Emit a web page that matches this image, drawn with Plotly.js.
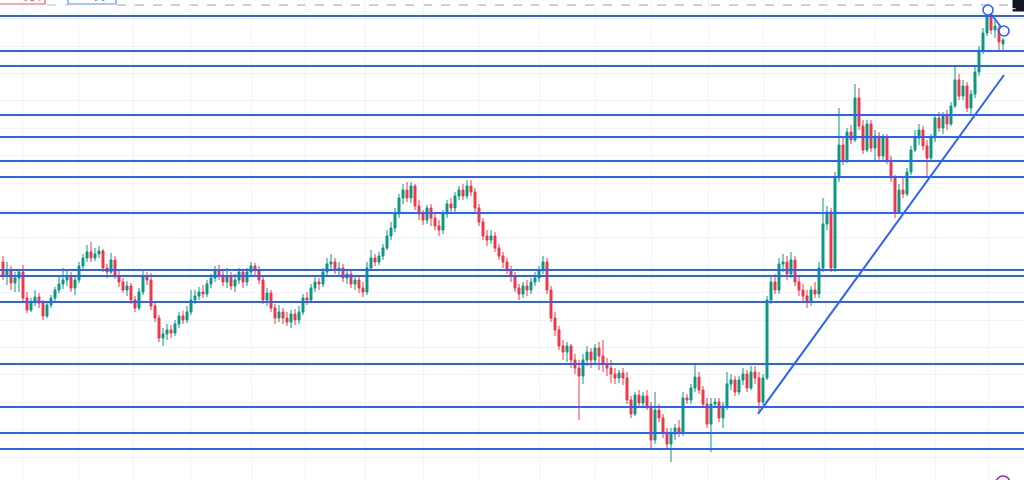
<!DOCTYPE html>
<html>
<head>
<meta charset="utf-8">
<script src="https://cdn.plot.ly/plotly-3.0.1.min.js"></script>
<style>
html,body{margin:0;padding:0;background:#ffffff;}
#chart{width:1024px;height:480px;}
</style>
</head>
<body>
<div id="chart"></div>
<script>
// candle index (one per session)
const open = [218,205,210,197,202,208,182,170,178,183, 177,164,175,182,190,196,200,204,192,200, 214,222,228,222,226,229,212,208,220,204, 198,190,194,180,172,188,204,200,174,162, 142,146,150,147,156,164,160,168,180,184, 188,186,196,202,210,205,198,204,194,200, 208,198,208,214,210,200,180,187,172,162, 168,162,158,166,160,168,182,180,192,198, 196,208,216,218,210,212,202,206,196,200, 192,188,212,222,218,224,232,244,252,266, 282,290,282,294,274,266,260,272,262,254, 250,266,276,272,284,290,284,294,288,272, 258,244,240,244,232,224,218,210,204,192, 186,194,190,198,202,210,218,190,162,150, 134,128,134,120,112,104,120,128,120,132, 124,116,112,106,102,107,102,80,66,85, 77,84,74,40,70,62,48,36,46,52, 48,82,80,92,103,90,76,56,76,78, 62,74,96,100,88,100,106,92,108,102, 78,102,180,198,190,216,218,206,220,198, 190,184,178,190,186,212,256,268,212,302, 335,320,348,340,382,354,330,356,332,344, 324,342,320,302,268,290,286,308,330,342, 350,334,322,342,362,352,364,356,374,400, 384,394,372,386,408,430,447,464,450,452, 436];
const high = [224,218,214,208,210,215,188,182,190,187, 180,178,185,193,204,212,210,208,204,218, 226,235,238,232,234,231,216,227,224,210, 202,199,197,184,192,210,208,207,178,165, 152,156,155,160,168,169,174,190,190,193, 195,200,206,214,215,210,212,208,206,212, 211,212,218,217,214,204,192,190,176,175, 172,168,170,171,174,186,188,196,204,202, 212,222,226,222,218,216,210,210,204,204, 198,218,230,226,228,236,250,258,272,286, 296,298,298,296,280,270,275,276,268,260, 270,280,282,288,294,296,300,300,292,276, 262,250,250,248,236,228,222,214,208,196, 198,200,202,208,214,224,222,194,168,154, 140,138,136,126,120,126,134,132,136,138, 140,122,120,112,110,112,108,84,88,90, 88,90,78,88,76,66,52,52,56,60, 88,86,96,115,108,94,82,82,82,82, 78,108,106,104,104,112,110,114,114,108, 106,184,204,206,222,226,224,228,224,204, 196,190,194,198,218,282,274,272,308,372, 342,352,355,396,392,360,360,360,350,348, 346,346,324,305,296,304,312,334,350,356, 354,340,346,366,368,368,370,378,413,406, 400,398,390,414,434,452,468,466,460,454, 442];
const low = [200,195,190,188,188,178,167,168,174,172, 160,162,172,179,187,191,194,188,185,197, 210,218,218,219,222,208,202,206,201,193, 187,184,176,168,170,185,195,170,158,138, 134,140,142,144,152,156,157,165,176,180, 182,183,192,198,200,194,192,190,188,196, 192,194,204,204,196,176,174,168,156,158, 156,154,152,155,156,165,175,177,188,190, 193,204,210,206,204,198,196,192,190,187, 183,185,210,214,215,220,230,240,248,262, 276,278,277,270,260,255,256,254,250,244, 246,262,268,268,280,280,281,284,268,254, 240,234,236,228,220,212,206,198,188,180, 182,184,186,194,198,206,186,158,144,130, 120,118,112,106,60,96,114,112,116,110, 108,104,97,96,97,95,76,62,64,73, 74,70,32,36,58,42,30,18,40,43, 44,76,76,88,86,72,52,28,72,58, 52,70,90,84,85,95,88,90,96,68, 75,100,176,186,186,208,200,202,194,184, 178,172,174,182,182,208,250,208,208,298, 315,317,336,338,350,326,328,328,320,320, 320,316,298,262,266,282,284,305,328,335, 330,303,320,338,348,346,350,354,372,380, 380,368,366,382,404,426,444,446,442,430, 430];
const close = [205,210,197,202,208,182,170,178,183,177, 164,175,182,190,196,200,204,192,200,214, 222,228,222,226,229,212,208,220,204,198, 190,194,180,172,188,204,200,174,162,142, 146,150,147,156,164,160,168,180,184,188, 186,196,202,210,205,198,204,194,200,208, 198,208,214,210,200,180,187,172,162,168, 162,158,166,160,168,182,180,192,198,196, 208,216,218,210,212,202,206,196,200,192, 188,212,222,218,224,232,244,252,266,282, 290,282,294,274,266,260,272,262,254,250, 266,276,272,284,290,284,294,288,272,258, 244,240,244,232,224,218,210,204,192,186, 194,190,198,202,210,218,190,162,150,134, 128,134,120,112,104,120,128,120,132,124, 116,112,106,102,107,102,80,66,85,77, 84,74,40,70,62,48,36,46,52,48, 82,80,92,103,90,76,56,76,78,62, 74,96,100,88,100,106,92,108,102,78, 102,180,198,190,216,218,206,220,198,190, 184,178,190,186,212,256,268,212,302,335, 320,348,340,382,354,330,356,332,344,324, 342,320,302,268,290,286,308,330,342,350, 334,322,342,362,352,364,356,374,400,384, 394,372,386,408,430,447,464,450,454,438, 440];

// horizontal support / resistance levels
const levels = [464, 429, 414, 365, 343, 319, 303, 267, 210, 204, 178, 116, 73, 47, 31];
// rising trend line (index, price)
const trendX = [188.75, 250.25];
const trendY = [66, 405];
// short line with anchor circles at the top
const peakX = [246.25, 250.25];
const peakY = [470, 449];
// month boundaries (vertical grid)
const monthTicks = [4.75, 18.75, 32.5, 46.75, 62, 75.5, 90.5, 105, 118.75, 134, 148, 162, 176.25, 190, 205.5, 218, 233, 246.25];
const lastPriceLevel = 475;

const idx = open.map((_, i) => i);
const BLUE = '#2962ff';

const traces = [
  {
    type: 'candlestick',
    x: idx, open: open, high: high, low: low, close: close,
    increasing: {line: {color: '#089981', width: 1}, fillcolor: '#089981'},
    decreasing: {line: {color: '#f23645', width: 1}, fillcolor: '#f23645'},
    whiskerwidth: 0,
    hoverinfo: 'skip',
    showlegend: false
  },
  {
    type: 'scatter', mode: 'lines', x: trendX, y: trendY,
    line: {color: BLUE, width: 2}, hoverinfo: 'skip', showlegend: false
  },
  {
    type: 'scatter', mode: 'lines+markers', x: peakX, y: peakY,
    line: {color: BLUE, width: 2},
    marker: {symbol: 'circle', size: 10, color: '#ffffff', line: {color: BLUE, width: 1.6}},
    hoverinfo: 'skip', showlegend: false, cliponaxis: false
  }
];

const shapes = levels.map(v => ({
  type: 'line', xref: 'paper', x0: 0, x1: 1, yref: 'y', y0: v, y1: v,
  line: {color: BLUE, width: 2}, layer: 'above'
}));
// dashed last-price line at the top
shapes.push({type: 'line', xref: 'x', x0: 28.5, x1: 255.25, yref: 'y', y0: lastPriceLevel, y1: lastPriceLevel,
  line: {color: '#9aa0ab', width: 1, dash: 'dash'}, layer: 'below'});
shapes.push({type: 'line', xref: 'x', x0: 11, x1: 16.25, yref: 'y', y0: lastPriceLevel, y1: lastPriceLevel,
  line: {color: '#8fd3b8', width: 1, dash: 'dash'}, layer: 'below'});
// sell / buy buttons (mostly cut off at the top)
shapes.push({type: 'rect', xref: 'paper', yref: 'paper', x0: -0.01, x1: 45/1024, y0: 1 - 4/480, y1: 1 + 30/480,
  line: {color: '#f7525f', width: 1.2}, fillcolor: '#ffffff', layer: 'above'});
shapes.push({type: 'rect', xref: 'paper', yref: 'paper', x0: 68/1024, x1: 116/1024, y0: 1 - 4/480, y1: 1 + 30/480,
  line: {color: '#5b8cff', width: 1.2}, fillcolor: '#ffffff', layer: 'above'});
// top-right small icon
shapes.push({type: 'rect', xref: 'paper', yref: 'paper', x0: 1013/1024, x1: 1.01, y0: 1 - 11/480, y1: 1.01,
  line: {color: '#131722', width: 1}, fillcolor: '#131722', layer: 'above'});
// bottom-right icon
shapes.push({type: 'circle', xref: 'paper', yref: 'paper', x0: 996/1024, x1: 1010/1024, y0: -10/480, y1: 4/480,
  line: {color: '#9c27b0', width: 1.5}, fillcolor: 'rgba(0,0,0,0)', layer: 'above'});

const layout = {
  width: 1024, height: 480,
  margin: {l: 0, r: 0, t: 0, b: 0},
  paper_bgcolor: '#ffffff', plot_bgcolor: '#ffffff',
  showlegend: false,
  xaxis: {
    range: [-0.75, 255.25], rangeslider: {visible: false},
    tickmode: 'array', tickvals: monthTicks, showticklabels: false,
    showgrid: true, gridcolor: '#f0f3fa', gridwidth: 1, zeroline: false, showline: false, fixedrange: true
  },
  yaxis: {
    range: [0, 480], tick0: 23, dtick: 27.4, showticklabels: false,
    showgrid: true, gridcolor: '#f0f3fa', gridwidth: 1, zeroline: false, showline: false, fixedrange: true
  },
  shapes: shapes,
  annotations: [
    {xref: 'paper', yref: 'paper', x: 22/1024, y: 1 - 5/480, yanchor: 'bottom', showarrow: false,
     text: '売り', font: {family: 'Noto Sans CJK JP', size: 11, color: '#f23645'}},
    {xref: 'paper', yref: 'paper', x: 92/1024, y: 1 - 5/480, yanchor: 'bottom', showarrow: false,
     text: '買い', font: {family: 'Noto Sans CJK JP', size: 11, color: '#2962ff'}},
    {xref: 'paper', yref: 'paper', x: 1018/1024, y: 1 - 5/480, showarrow: false,
     text: 'C', font: {family: 'DejaVu Sans', size: 9, color: '#ffffff'}}
  ],
  font: {family: 'Noto Sans, sans-serif'}
};

Plotly.newPlot('chart', traces, layout, {displayModeBar: false, staticPlot: true});
</script>
</body>
</html>
